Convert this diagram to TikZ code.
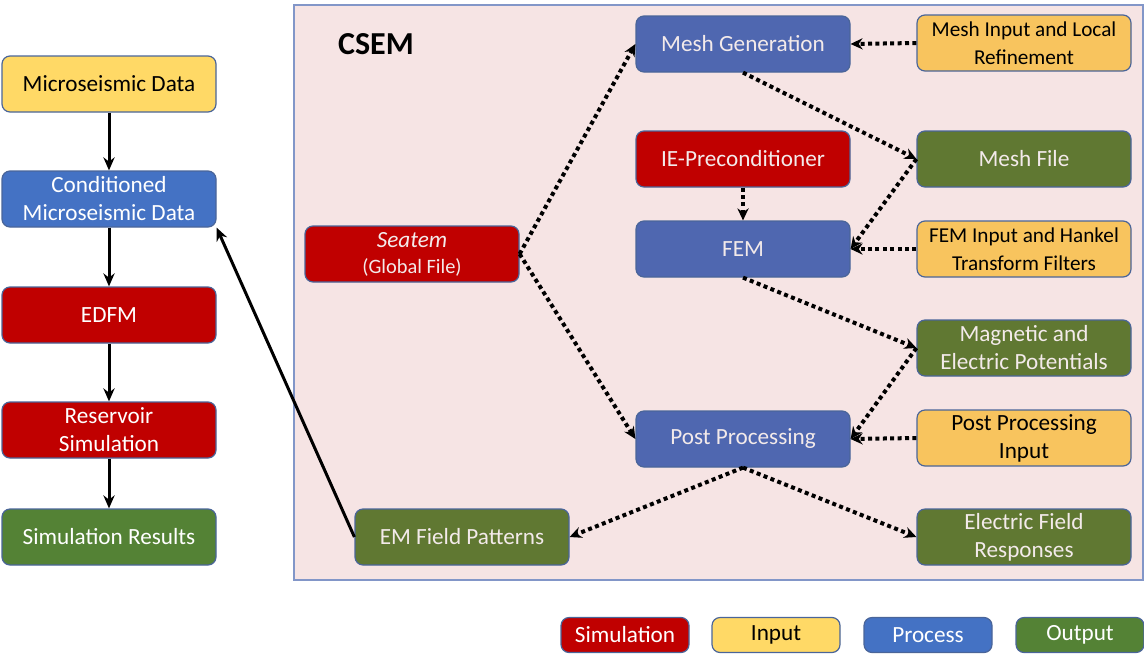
\documentclass[tikz,border=0pt]{standalone}
\usepackage{fontspec}
\setmainfont{Carlito}
\usetikzlibrary{arrows.meta}
\usetikzlibrary{positioning}

% cores
\definecolor{vermelho}{HTML}{C00000}
\definecolor{amarelo}{HTML}{FFD966}
\definecolor{azul}{HTML}{4472C4}
\definecolor{verde}{HTML}{548235}
\definecolor{amareloC}{HTML}{F8C45E}
\definecolor{azulC}{HTML}{4F67B0}
\definecolor{verdeC}{HTML}{607832}
\definecolor{rosa}{HTML}{F6E4E4}
\definecolor{moldura}{HTML}{8296C8}
\definecolor{borda}{HTML}{4A6599}
\definecolor{textoC}{HTML}{F3EAEA}

\begin{document}
\begin{tikzpicture}[>=Stealth, x=0.5pt, y=-0.5pt,
    caixa/.style={draw=borda, line width=0.6pt, rounded corners=4pt,
        minimum width=107pt, minimum height=28pt, align=center, inner sep=1pt,
        font=\fontsize{11.6}{14}\selectfont},
    simul/.style={caixa, fill=vermelho, text=white},
    entrada/.style={caixa, fill=amarelo, text=black},
    processo/.style={caixa, fill=azul, text=white},
    saida/.style={caixa, fill=verde, text=white},
    menor/.style={font=\fontsize{10.6}{14}\selectfont},
    legenda/.style={minimum width=64pt, minimum height=17.5pt},
    pontilhada/.style={-{Stealth[length=6pt, width=5.6pt]}, line width=2pt,
        dash pattern=on 2pt off 1.7pt},
    cheia/.style={-{Stealth[length=6.5pt, width=5.6pt]}, line width=1.5pt}]

    \useasboundingbox (0,0) rectangle (1144,653);

    % coluna da esquerda
    \node[entrada] (micro) at (109,84) {Microseismic Data};
    \node[processo] (cond) at (109,199) {Conditioned\\Microseismic Data};
    \node[simul] (edfm) at (109,315) {EDFM};
    \node[simul] (reserv) at (109,430) {Reservoir\\Simulation};
    \node[saida] (simres) at (109,537) {Simulation Results};

    \draw[cheia] (micro) -- (cond);
    \draw[cheia] (cond) -- (edfm);
    \draw[cheia] (edfm) -- (reserv);
    \draw[cheia] (reserv) -- (simres);

    % bloco CSEM
    \draw[draw=moldura, fill=rosa, line width=0.8pt] (294,5) rectangle (1143,580);
    \node[anchor=west, font=\bfseries\fontsize{16}{19}\selectfont] (csem) at (331,44) {CSEM};

    \node[simul, text=textoC] (seatem) at (412,254)
        {\textit{Seatem}\\[-1pt]{\fontsize{10.2}{12}\selectfont (Global File)}};
    \node[processo, fill=azulC, text=textoC] (malha) at (743,44) {Mesh Generation};
    \node[simul, text=textoC] (precond) at (743,159) {IE-Preconditioner};
    \node[processo, fill=azulC, text=textoC] (fem) at (743,249) {FEM};
    \node[processo, fill=azulC, text=textoC] (pos) at (743,439) {Post Processing};
    \node[saida, fill=verdeC, text=textoC] (campo) at (462,537) {EM Field Patterns};

    \node[entrada, menor, fill=amareloC] (malhain) at (1024,43) {Mesh Input and Local\\Refinement};
    \node[saida, fill=verdeC, text=textoC] (malhaarq) at (1024,159) {Mesh File};
    \node[entrada, menor, fill=amareloC] (femin) at (1024,249) {FEM Input and Hankel\\Transform Filters};
    \node[saida, fill=verdeC, text=textoC] (potenc) at (1024,348) {Magnetic and\\Electric Potentials};
    \node[entrada, fill=amareloC] (posin) at (1024,438) {Post Processing\\Input};
    \node[saida, fill=verdeC, text=textoC] (resp) at (1024,537) {Electric Field\\Responses};

    % fluxo pontilhado
    \draw[pontilhada] (seatem.east) -- (malha.west);
    \draw[pontilhada] (seatem.east) -- (pos.west);
    \draw[pontilhada] (malhain.west) -- (malha.east);
    \draw[pontilhada] (malha.south) -- (malhaarq.west);
    \draw[pontilhada] (malhaarq.west) -- (fem.east);
    \draw[pontilhada] (precond.south) -- (fem.north);
    \draw[pontilhada] (femin.west) -- (fem.east);
    \draw[pontilhada] (fem.south) -- (potenc.west);
    \draw[pontilhada] (potenc.west) -- (pos.east);
    \draw[pontilhada] (posin.west) -- (pos.east);
    \draw[pontilhada] (pos.south) -- (campo.east);
    \draw[pontilhada] (pos.south) -- (resp.west);

    % retorno para os dados condicionados
    \draw[cheia] (campo.west) -- (cond.south east);

    % legenda
    \node[simul, legenda] (legsim) at (625,635) {Simulation};
    \node[entrada, legenda] (legent) at (776,635) {Input};
    \node[processo, legenda] (legproc) at (928,635) {Process};
    \node[saida, legenda] (legsai) at (1080,635) {Output};
\end{tikzpicture}
\end{document}
